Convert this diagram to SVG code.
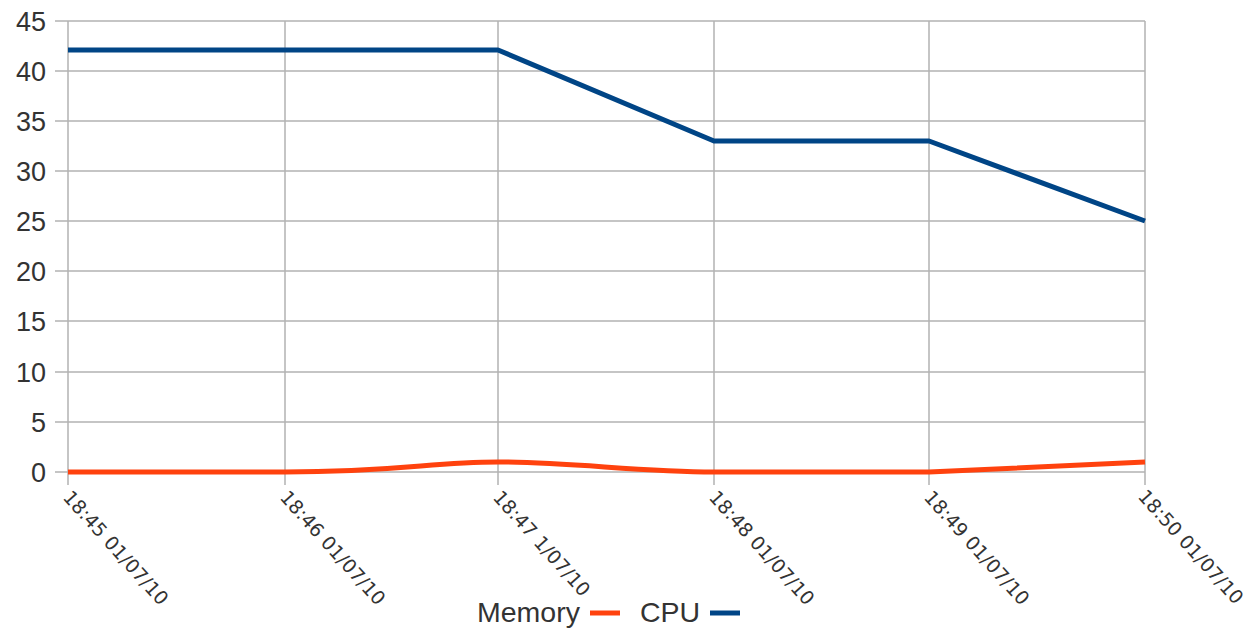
<svg xmlns="http://www.w3.org/2000/svg" width="1251" height="630" viewBox="0 0 1251 630">
<style>
.grid{stroke:#b3b3b3;stroke-width:1.5;fill:none}
.ylab{font-family:"Liberation Sans",Arial,sans-serif;font-size:27px;fill:#333;text-anchor:end}
.xlab{font-family:"DejaVu Sans",sans-serif;font-size:19px;fill:#333}
.leg{font-family:"Liberation Sans",Arial,sans-serif;font-size:28.5px;fill:#333}
.cpu{stroke:#004586;stroke-width:5;fill:none;stroke-linejoin:round}
.mem{stroke:#ff420e;stroke-width:5;fill:none;stroke-linejoin:round}
</style>
<rect width="1251" height="630" fill="#fff"/>
<g id="grid">
<path class="grid" d="M55 21H1145M55 71H1145M55 121H1145M55 171H1145M55 221H1145M55 271H1145M55 321H1145M55 372H1145M55 422H1145M55 472H1145"/>
<path class="grid" d="M68 21V485M285 21V485M498 21V485M714 21V485M929 21V485M1145 21V485"/>
</g>
<g id="y-axis">
<text class="ylab" x="46" y="31">45</text>
<text class="ylab" x="46" y="81">40</text>
<text class="ylab" x="46" y="131">35</text>
<text class="ylab" x="46" y="181">30</text>
<text class="ylab" x="46" y="231">25</text>
<text class="ylab" x="46" y="281">20</text>
<text class="ylab" x="46" y="331">15</text>
<text class="ylab" x="46" y="382">10</text>
<text class="ylab" x="46" y="432">5</text>
<text class="ylab" x="46" y="482">0</text>
</g>
<g id="x-axis">
<text class="xlab" transform="translate(62,498) rotate(48)">18:45 01/07/10</text>
<text class="xlab" transform="translate(279,498) rotate(48)">18:46 01/07/10</text>
<text class="xlab" transform="translate(492,498) rotate(48)">18:47 1/07/10</text>
<text class="xlab" transform="translate(708,498) rotate(48)">18:48 01/07/10</text>
<text class="xlab" transform="translate(923,498) rotate(48)">18:49 01/07/10</text>
<text class="xlab" transform="translate(1137,497) rotate(48)">18:50 01/07/10</text>
</g>
<g id="connectors">
<path id="series-cpu" class="cpu" d="M68 50L285 50L498 50L714 141L929 141L1145 221"/>
<path id="series-memory" class="mem" d="M68 472L285 472C400 472 430 462 498 462C570 462 640 472 714 472L929 472L1145 462"/>
</g>
<g id="legend">
<text class="leg" x="477" y="622">Memory</text>
<line x1="590" y1="613" x2="620" y2="613" class="mem"/>
<text class="leg" x="640" y="622">CPU</text>
<line x1="710" y1="613" x2="740" y2="613" class="cpu"/>
</g>
</svg>
